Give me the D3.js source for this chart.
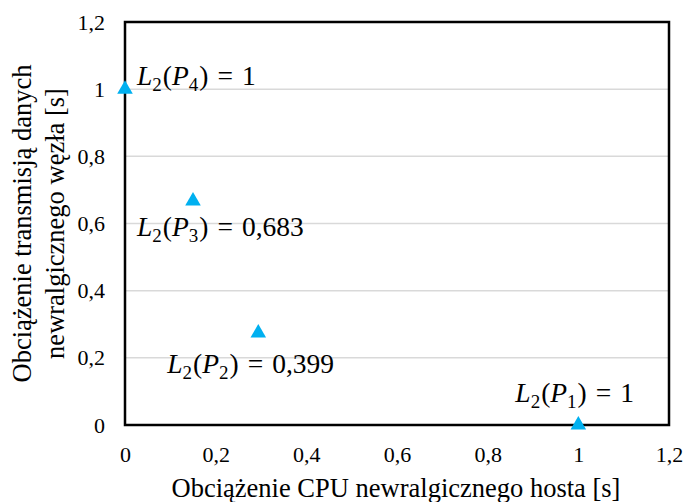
<!DOCTYPE html>
<html>
<head>
<meta charset="utf-8">
<script src="https://cdn.jsdelivr.net/npm/d3@7"></script>
<style>
	html, body { margin: 0; padding: 0; background: #fff; }
	#chart { width: 686px; height: 502px; }
</style>
</head>
<body>
<div id="chart"></div>
<script>
'use strict';

// punkty P1..P4
var pointNames = ['1', '2', '3', '4'];
var cpuLoad = [1, 0.294, 0.15, 0];
var transLoad = [0, 0.274, 0.667, 1];
var l2Values = ['1', '0,399', '0,683', '1'];

var xTicks = [0, 0.2, 0.4, 0.6, 0.8, 1, 1.2];
var yTicks = [0, 0.2, 0.4, 0.6, 0.8, 1, 1.2];

var xTitle = 'Obciążenie CPU newralgicznego hosta [s]';
var yTitle = ['Obciążenie transmisją danych', 'newralgicznego węzła [s]'];

// przesuniecia etykiet wzgledem punktu
var labelOffsets = [[-63, -23], [-91, 40], [-56, 35], [12, -4]];

var SERIF = '"Liberation Serif", "DejaVu Serif", serif';

var el = document.getElementById('chart');
var width = 686;
var height = 502;
var margin = {top: 22, right: 17, bottom: 77, left: 125};

var w = width - margin.left - margin.right;
var h = height - margin.top - margin.bottom;

var svg = d3.select(el).append('svg')
	.attr('width', width)
	.attr('height', height)
	.attr('font-family', SERIF);

var g = svg.append('g')
	.attr('transform', 'translate(' + margin.left + ',' + margin.top + ')');

var x = d3.scaleLinear().domain([0, 1.2]).range([0, w]);
var y = d3.scaleLinear().domain([0, 1.2]).range([h, 0]);

var fmt = function(d){ return String(+d.toFixed(1)).replace('.', ','); };

// siatka
g.append('g')
	.selectAll('line')
	.data(yTicks.filter(function(d){ return d > 0 && d < 1.2; }))
	.enter().append('line')
		.attr('x1', 0)
		.attr('x2', w)
		.attr('y1', function(d){ return y(d); })
		.attr('y2', function(d){ return y(d); })
		.attr('stroke', '#d9d9d9')
		.attr('stroke-width', 1.5);

// osie
var xAxis = g.append('g')
	.attr('transform', 'translate(0,' + h + ')')
	.call(d3.axisBottom(x).tickValues(xTicks).tickFormat(fmt).tickSize(0).tickPadding(22));

var yAxis = g.append('g')
	.call(d3.axisLeft(y).tickValues(yTicks).tickFormat(fmt).tickSize(0).tickPadding(20));

[xAxis, yAxis].forEach(function(a){
	a.attr('font-family', SERIF).attr('font-size', 22);
	a.select('.domain').remove();
	a.selectAll('text').attr('fill', '#000');
});
xAxis.selectAll('text').attr('dy', '0.67em');

// ramka
g.append('rect')
	.attr('x', 0)
	.attr('y', 0)
	.attr('width', w)
	.attr('height', h)
	.attr('fill', 'none')
	.attr('stroke', '#000')
	.attr('stroke-width', 2.5);

// punkty
var data = pointNames.map(function(n, i){
	return {name: n, x: cpuLoad[i], y: transLoad[i], l2: l2Values[i], off: labelOffsets[i]};
});

g.selectAll('.pt')
	.data(data)
	.enter().append('path')
		.attr('class', 'pt')
		.attr('d', d3.symbol().type(d3.symbolTriangle).size(105))
		.attr('transform', function(d){ return 'translate(' + x(d.x) + ',' + y(d.y) + ')'; })
		.attr('fill', '#00b0f0');

// etykiety L2(Pn) = ...
var lbl = g.selectAll('.lbl')
	.data(data)
	.enter().append('text')
		.attr('class', 'lbl')
		.attr('x', function(d){ return x(d.x) + d.off[0]; })
		.attr('y', function(d){ return y(d.y) + d.off[1]; })
		.attr('font-size', 27.5);

lbl.each(function(d){
	var t = d3.select(this);
	t.append('tspan').attr('font-style', 'italic').text('L');
	t.append('tspan').attr('dy', 6).attr('font-size', 19).text('2');
	t.append('tspan').attr('dy', -6).attr('dx', 1).text('(');
	t.append('tspan').attr('font-style', 'italic').text('P');
	t.append('tspan').attr('dy', 6).attr('font-size', 19).text(d.name);
	t.append('tspan').attr('dy', -6).attr('dx', 1).text(')');
	t.append('tspan').attr('dx', 9).text('=');
	t.append('tspan').attr('dx', 9).text(d.l2);
});

// tytuly osi
svg.append('text')
	.attr('x', 396)
	.attr('y', 497)
	.attr('text-anchor', 'middle')
	.attr('font-size', 26.5)
	.text(xTitle);

var yt = svg.append('text')
	.attr('transform', 'translate(0,' + (margin.top + h / 2) + ') rotate(-90)')
	.attr('text-anchor', 'middle')
	.attr('font-size', 26.5);

yt.selectAll('tspan')
	.data(yTitle)
	.enter().append('tspan')
		.attr('x', 0)
		.attr('y', function(d, i){ return 31 + i * 33; })
		.text(function(d){ return d; });
</script>
</body>
</html>
